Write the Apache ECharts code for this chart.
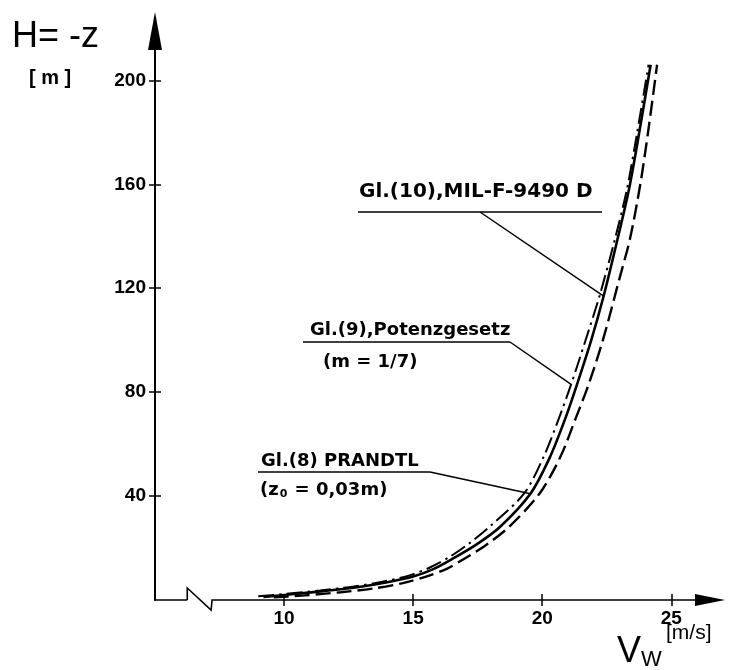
<!DOCTYPE html>
<html>
<head>
<meta charset="utf-8">
<script src="https://cdn.jsdelivr.net/npm/echarts@6/dist/echarts.min.js"></script>
<style>
  html, body { margin: 0; padding: 0; background: #fff; }
  #chart { width: 731px; height: 670px; }
</style>
</head>
<body>
<div id="chart"></div>
<script>
// wind profile H = -z [m] over V_W [m/s]
const speedTicks = [10, 15, 20, 25];
const heightTicks = [40, 80, 120, 160, 200];

// Gl.(10), MIL-F-9490 D  (solid)
const heightsMil = [1.2, 2.2, 3.5, 5, 6.8, 9, 12, 16, 21, 28, 41, 55, 70, 83, 100, 117, 139, 158, 180, 206];
const speedsMil  = [9.2, 10.3, 11.6, 12.9, 14.0, 15.0, 15.8, 16.55, 17.4, 18.35, 19.55, 20.3, 20.9, 21.35, 21.9, 22.38, 22.92, 23.36, 23.76, 24.2];

// Gl.(9), Potenzgesetz m = 1/7  (dash-dot)
const heightsPow = [1.4, 2.4, 3.7, 5.2, 7, 9.3, 12.5, 16.5, 22, 29, 41, 55, 70, 83, 100, 117, 139, 158, 180, 206];
const speedsPow  = [9.0, 10.1, 11.4, 12.7, 13.8, 14.8, 15.65, 16.4, 17.2, 18.05, 19.3, 20.05, 20.65, 21.12, 21.68, 22.22, 22.82, 23.28, 23.68, 24.12];

// Gl.(8), PRANDTL z0 = 0,03 m  (dashed)
const heightsPra = [1.0, 1.8, 3, 4.5, 6.5, 9, 12, 16, 21, 28, 41, 55, 70, 83, 100, 124, 139, 160, 180, 206];
const speedsPra  = [9.6, 10.8, 12.2, 13.5, 14.6, 15.5, 16.3, 17.0, 17.8, 18.7, 19.9, 20.7, 21.3, 21.8, 22.35, 23.0, 23.4, 23.8, 24.1, 24.45];

// where the label leaders touch the curves  [V, H]
const leaderMil = [22.38, 117];
const leaderPow = [21.12, 83];
const leaderPra = [19.5, 41];

// axis break on the V axis (values)
const breakSpan = [6.25, 7.25];

const pairs = (v, h) => v.map((x, i) => [x, h[i]]);
const FONT = 'DejaVu Sans';
const LAB = 'Liberation Sans';
const INK = '#000';

const chart = echarts.init(document.getElementById('chart'));

const tickLabel = { color: INK, fontFamily: LAB, fontWeight: 'bold', fontSize: 19 };

chart.setOption({
  animation: false,
  backgroundColor: '#fff',
  grid: { left: 155, right: 21, top: 31, bottom: 70 },
  xAxis: [
    {
      type: 'value', min: 5, max: 26.5, position: 'bottom',
      axisLine: { show: true, lineStyle: { color: INK, width: 1.6 }, symbol: ['none', 'triangle'], symbolSize: [12, 30] },
      axisTick: { show: true, customValues: speedTicks, length: 6, lineStyle: { color: INK, width: 1.5 } },
      axisLabel: Object.assign({ customValues: speedTicks, margin: 9 }, tickLabel),
      splitLine: { show: false }
    },
    {
      // inner half of the crossing ticks
      type: 'value', min: 5, max: 26.5, position: 'bottom',
      axisLine: { show: false },
      axisTick: { show: true, inside: true, customValues: speedTicks, length: 6, lineStyle: { color: INK, width: 1.5 } },
      axisLabel: { show: false },
      splitLine: { show: false }
    }
  ],
  yAxis: [
    {
      type: 'value', min: 0, max: 219, position: 'left',
      axisLine: { show: true, lineStyle: { color: INK, width: 2 }, symbol: ['none', 'triangle'], symbolSize: [14, 38] },
      axisTick: { show: true, customValues: heightTicks, length: 6, lineStyle: { color: INK, width: 1.5 } },
      axisLabel: Object.assign({ customValues: heightTicks, margin: 9 }, tickLabel),
      splitLine: { show: false }
    },
    {
      type: 'value', min: 0, max: 219, position: 'left',
      axisLine: { show: false },
      axisTick: { show: true, inside: true, customValues: heightTicks, length: 6, lineStyle: { color: INK, width: 1.5 } },
      axisLabel: { show: false },
      splitLine: { show: false }
    }
  ],
  series: [
    {
      name: 'Gl.(10)', type: 'line', data: pairs(speedsMil, heightsMil),
      showSymbol: false, smooth: 0.3, z: 4,
      lineStyle: { color: INK, width: 2.6, type: 'solid' }
    },
    {
      name: 'Gl.(9)', type: 'line', data: pairs(speedsPow, heightsPow),
      showSymbol: false, smooth: 0.3, z: 3,
      lineStyle: { color: INK, width: 2, type: [16, 5, 2.5, 5] }
    },
    {
      name: 'Gl.(8)', type: 'line', data: pairs(speedsPra, heightsPra),
      showSymbol: false, smooth: 0.3, z: 3,
      lineStyle: { color: INK, width: 2.4, type: [15, 6] }
    }
  ]
});

// annotations: labels, underlines and leaders, axis titles, axis break
const px = p => chart.convertToPixel({ seriesIndex: 0 }, p);
const line = (a, b, w) => ({ type: 'line', z: 100, shape: { x1: a[0], y1: a[1], x2: b[0], y2: b[1] }, style: { stroke: INK, lineWidth: w || 1.5 } });
const text = (x, y, s, size, weight, family) => ({
  type: 'text', z: 100, x: x, y: y,
  style: { text: s, fill: INK, fontSize: size, fontWeight: weight || 'bold', fontFamily: family || FONT, verticalAlign: 'middle', align: 'left' }
});

const b1 = px([breakSpan[0], 0]);
const b2 = px([breakSpan[1], 0]);
const y0 = b1[1];

chart.setOption({
  graphic: [
    text(12, 37, 'H= -z', 36, 'normal', LAB),
    text(29, 78, '[ m ]', 20, 'bold', LAB),
    text(617, 652, 'V', 36, 'normal', LAB),
    text(641, 660, 'W', 22, 'normal', LAB),
    text(666, 633, '[m/s]', 21, 'normal', LAB),

    text(359, 192, 'Gl.(10),MIL-F-9490 D', 20),
    line([358, 212], [602, 212]),
    line([480, 212], px(leaderMil)),

    text(310, 330, 'Gl.(9),Potenzgesetz', 18),
    line([303, 342], [510, 342]),
    line([510, 342], px(leaderPow)),
    text(323, 362, '(m = 1/7)', 18),

    text(261, 461, 'Gl.(8) PRANDTL', 18),
    line([258, 472], [430, 472]),
    line([430, 472], px(leaderPra)),
    {
      type: 'text', z: 100, x: 260, y: 490,
      style: {
        text: '{a|(z}{s|0}{a| = 0,03m)}', fill: INK, verticalAlign: 'middle', align: 'left',
        rich: {
          a: { fontSize: 18, fontWeight: 'bold', fontFamily: FONT, fill: INK },
          s: { fontSize: 11, fontWeight: 'bold', fontFamily: FONT, fill: INK, padding: [8, 1, 0, 1] }
        }
      }
    },

    // axis break
    { type: 'rect', z: 99, shape: { x: b1[0], y: y0 - 3, width: b2[0] - b1[0] + 1, height: 6 }, style: { fill: '#fff' } },
    {
      type: 'polyline', z: 100,
      shape: { points: [[b1[0], y0], [b1[0], y0 - 12], [b2[0] - 2, y0 + 10], [b2[0] - 1, y0], [b2[0] + 1, y0]] },
      style: { stroke: INK, lineWidth: 1.6, fill: null }
    }
  ]
});
</script>
</body>
</html>
